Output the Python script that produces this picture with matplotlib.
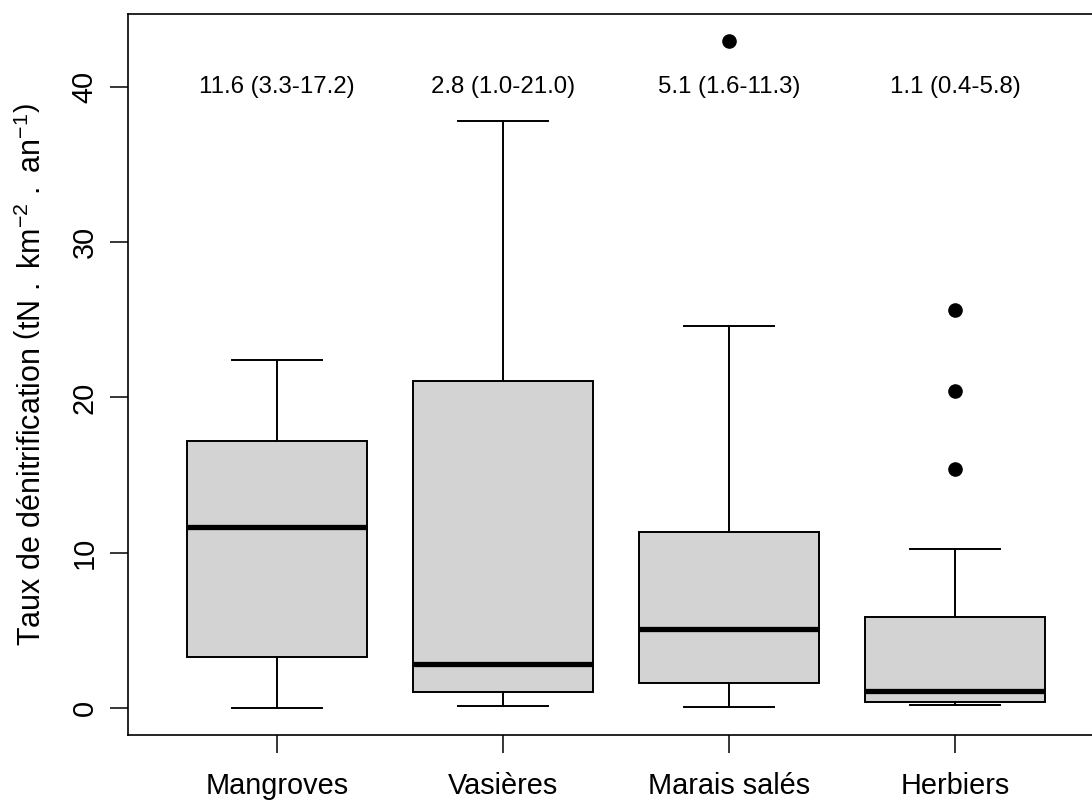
import matplotlib
matplotlib.use("Agg")
import matplotlib.pyplot as plt

plt.rcParams['font.family'] = ['Liberation Sans', 'DejaVu Sans']
plt.rcParams['mathtext.fontset'] = 'custom'
plt.rcParams['mathtext.rm'] = 'Liberation Sans'
plt.rcParams['mathtext.it'] = 'Liberation Sans:italic'
plt.rcParams['mathtext.default'] = 'regular'

categories = ["Mangroves", "Vasières", "Marais salés", "Herbiers"]
medians = [11.65, 2.83, 5.08, 1.09]
q1 = [3.28, 1.03, 1.60, 0.39]
q3 = [17.17, 21.03, 11.35, 5.85]
whisk_lo = [0.0, 0.13, 0.06, 0.19]
whisk_hi = [22.44, 37.8, 24.57, 10.25]
outliers = [[], [], [42.96], [25.6, 20.45, 15.37]]
annotations = ["11.6 (3.3-17.2)", "2.8 (1.0-21.0)", "5.1 (1.6-11.3)", "1.1 (0.4-5.8)"]
annot_y = 40
yticks = [0, 10, 20, 30, 40]

stats = []
for i, c in enumerate(categories):
    stats.append(dict(label=c, med=medians[i], q1=q1[i], q3=q3[i],
                      whislo=whisk_lo[i], whishi=whisk_hi[i], fliers=outliers[i]))

fig = plt.figure(figsize=(10.92, 8.02), dpi=100)
ax = fig.add_axes([128/1092, 1-735/802, (1104-128)/1092, (735-14)/802])

positions = list(range(1, len(categories)+1))
ax.bxp(stats, positions=positions, widths=0.8, patch_artist=True,
       boxprops=dict(facecolor='#D3D3D3', edgecolor='black', linewidth=1.4),
       medianprops=dict(color='black', linewidth=3.8, solid_capstyle='butt'),
       whiskerprops=dict(color='black', linewidth=1.4),
       capprops=dict(color='black', linewidth=1.4),
       capwidths=0.4,
       flierprops=dict(marker='o', markerfacecolor='black', markeredgecolor='black', markersize=9.5))

for x, t in zip(positions, annotations):
    ax.text(x, annot_y, t, ha='center', va='center', fontsize=17.3)

ax.set_xlim(0.34, 4.66)
ax.set_ylim(-1.72, 44.68)
ax.set_xticks(positions)
ax.set_xticklabels(categories, fontsize=20.8)
ax.set_yticks(yticks)
ax.set_yticklabels([str(v) for v in yticks], fontsize=20.8)
for lab in ax.get_yticklabels():
    lab.set_rotation(90)
    lab.set_va('center')
ax.tick_params(axis='both', direction='out', length=13, width=1.1, color='black')
ax.tick_params(axis='y', pad=8)
ax.tick_params(axis='x', pad=14)
for s in ax.spines.values():
    s.set_linewidth(1.2)
ax.set_ylabel(r'$\mathrm{Taux\ de\ dénitrification}\ \left(\mathrm{tN\ .\ km^{-2}\ .\ an^{-1}}\right)$',
              fontsize=22)
ax.yaxis.set_label_coords((32-128)/976, 0.5)
ax.yaxis.label.set_va('center')

fig.savefig("out.png", dpi=100)
